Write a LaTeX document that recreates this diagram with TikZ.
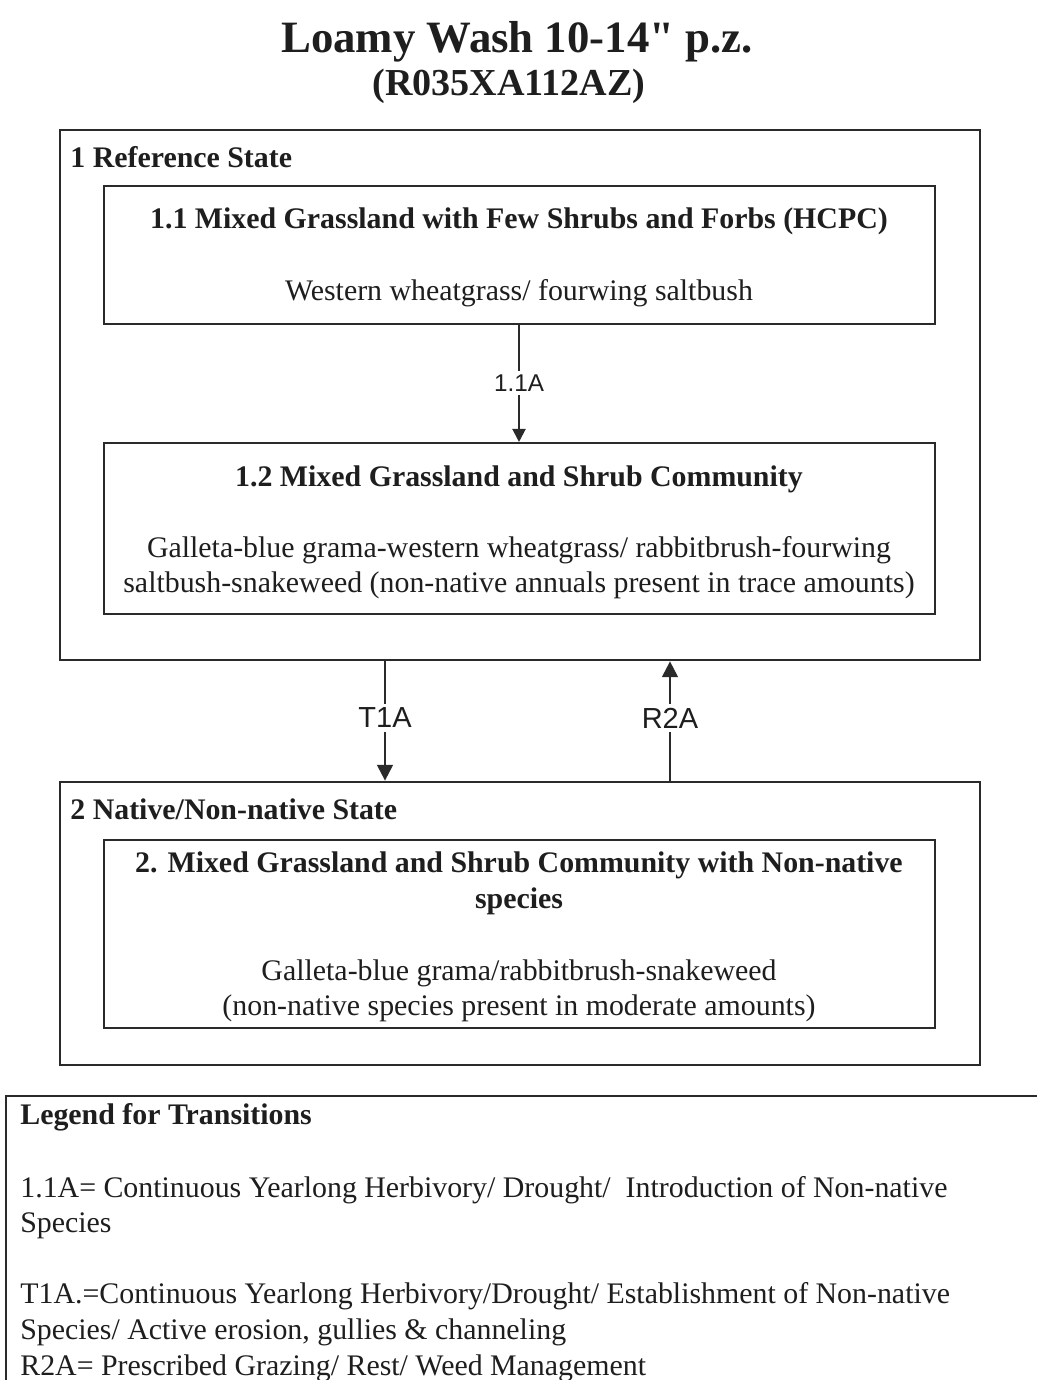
\documentclass[tikz,border=0pt]{standalone}
\usepackage{fontspec}
\setmainfont{Liberation Serif}
\newfontfamily\labelfont{Liberation Sans}
\newfontfamily\straightfont{Liberation Serif}[Ligatures=TeXOff]
\usetikzlibrary{arrows.meta,positioning}
\definecolor{LineGray}{HTML}{2A2A2A}
\definecolor{TextGray}{HTML}{1E1E1E}
\tikzset{
    % State box
    statebox/.style={
        draw=LineGray,
        line width=1.6pt,
        minimum width=18.4cm,
        inner sep=0pt
    },
    % Community box
    commbox/.style={
        draw=LineGray,
        line width=1.2pt,
        minimum width=16.62cm,
        inner sep=0pt
    },
    % Titles
    titletext/.style={
        anchor=base,
        inner sep=0pt,
        text=TextGray,
        font=\fontsize{25.5}{30}\selectfont\bfseries
    },
    % State names
    statelabel/.style={
        anchor=base west,
        inner sep=0pt,
        text=TextGray,
        font=\fontsize{17}{20}\selectfont\bfseries
    },
    % Community names
    commtitle/.style={
        anchor=base,
        inner sep=0pt,
        text=TextGray,
        font=\fontsize{17}{20}\selectfont\bfseries
    },
    % Community species
    commtext/.style={
        anchor=base,
        inner sep=0pt,
        text=TextGray,
        font=\fontsize{17}{20}\selectfont
    },
    % Transition labels
    translabel/.style={
        inner sep=2pt,
        text=TextGray,
        font=\labelfont\fontsize{16.5}{19}\selectfont
    },
    % Legend lines
    legendtext/.style={
        anchor=base west,
        inner sep=0pt,
        text=TextGray,
        font=\fontsize{17}{20}\selectfont
    },
    % Arrow styles
    myarrow/.style={
        -{Triangle[length=9pt,width=9pt]},
        line width=1.2pt,
        draw=LineGray
    },
    myline/.style={
        line width=1.2pt,
        draw=LineGray
    }
}
\begin{document}
\begin{tikzpicture}[x=0.02cm, y=-0.02cm]
        \useasboundingbox[fill=white] (0,0) rectangle (1037,1380);

        % Title
        \node[titletext] (title) at (517,52) {Loamy Wash 10-14{\straightfont\bfseries"} p.z.};
        \node[titletext, font=\fontsize{21.7}{25}\selectfont\bfseries] (code) at (509,95) {(R035XA112AZ)};

        % State 1
        \node[statebox, minimum height=10.6cm] (ref) at (520,395) {};
        \node[statelabel] (reflabel) at (70,167) {1 Reference State};

        \node[commbox, minimum height=2.76cm] (c11) at (519.5,255) {};
        \node[commtitle] (c11title) at (519,228) {1.1 Mixed Grassland with Few Shrubs and Forbs (HCPC)};
        \node[commtext] (c11text) at (519,300) {Western wheatgrass/ fourwing saltbush};

        \node[commbox, minimum height=3.42cm] (c12) at (519.5,528.5) {};
        \node[commtitle] (c12title) at (519,486) {1.2 Mixed Grassland and Shrub Community};
        \node[commtext] (c12text1) at (519,557) {Galleta-blue grama-western wheatgrass/ rabbitbrush-fourwing};
        \node[commtext] (c12text2) at (519,592) {saltbush-snakeweed (non-native annuals present in trace amounts)};

        % State 2
        \node[statebox, minimum height=5.66cm] (nat) at (520,923.5) {};
        \node[statelabel] (natlabel) at (70,819) {2 Native/Non-native State};

        \node[commbox, minimum height=3.76cm] (c2) at (519.5,934) {};
        \node[commtitle] (c2title1) at (519,872) {2. Mixed Grassland and Shrub Community with Non-native};
        \node[commtitle] (c2title2) at (519,908) {species};
        \node[commtext] (c2text1) at (519,980) {Galleta-blue grama/rabbitbrush-snakeweed};
        \node[commtext] (c2text2) at (519,1015) {(non-native species present in moderate amounts)};

        % Transitions
        \node[translabel, font=\labelfont\fontsize{13.8}{16}\selectfont] (p11a) at (519,383) {1.1A};
        \node[translabel] (t1a) at (385,718) {T1A};
        \node[translabel] (r2a) at (670,718) {R2A};

        \draw[myline] (c11.south -| p11a) -- (p11a.north);
        \draw[myarrow, -{Triangle[length=7.5pt,width=7.5pt]}] (p11a.south) -- (p11a |- c12.north);

        \draw[myline] (ref.south -| t1a) -- (t1a.north);
        \draw[myarrow] (t1a.south) -- (t1a |- nat.north);

        \draw[myline] (nat.north -| r2a) -- (r2a.south);
        \draw[myarrow] (r2a.north) -- (r2a |- ref.south);

        % Legend
        \node[inner sep=0pt, minimum width=21cm, minimum height=6.5cm, anchor=north west, draw=LineGray, line width=1.2pt] (legend) at (5,1095) {};
        \node[legendtext, font=\fontsize{17}{20}\selectfont\bfseries] (legtitle) at (20,1124) {Legend for Transitions};
        \node[legendtext] (leg11a) at (20,1197) {1.1A= Continuous Yearlong Herbivory/ Drought/\ \ Introduction of Non-native};
        \node[legendtext] (leg11b) at (20,1232) {Species};
        \node[legendtext] (legt1a) at (20,1303) {T1A.=Continuous Yearlong Herbivory/Drought/ Establishment of Non-native};
        \node[legendtext] (legt1b) at (20,1339) {Species/ Active erosion, gullies \& channeling};
        \node[legendtext] (legr2a) at (20,1375) {R2A= Prescribed Grazing/ Rest/ Weed Management};
\end{tikzpicture}
\end{document}
